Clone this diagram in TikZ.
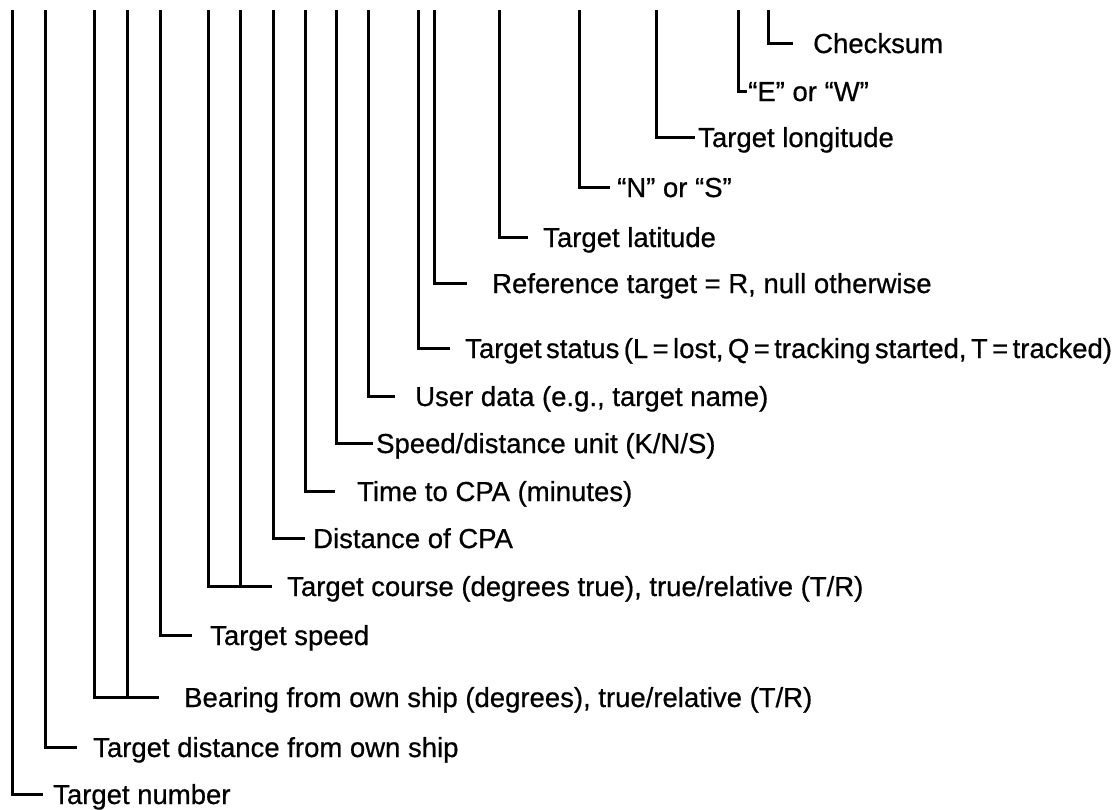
\documentclass[tikz,border=0pt]{standalone}
\usepackage{fontspec}
\setmainfont{Liberation Sans}
\newfontfamily\lblfont{Liberation Sans}[FakeBold=0.6]

\begin{document}
\begin{tikzpicture}[x=1pt,y=-1pt,
  lead/.style={line width=3pt},
  lbl/.style={anchor=west,inner sep=0pt,text height=20pt,text depth=0pt,font=\lblfont\fontsize{27.5}{31}\selectfont}]
\useasboundingbox (0,0) rectangle (1119,809);
\coordinate (numtop) at (12,10);
\coordinate (disttop) at (45,10);
\coordinate (brgtopa) at (94,10);
\coordinate (brgtopb) at (127,10);
\coordinate (spdtop) at (160,10);
\coordinate (crstopa) at (208,10);
\coordinate (crstopb) at (240,10);
\coordinate (dcpatop) at (273,10);
\coordinate (tcpatop) at (305,10);
\coordinate (unittop) at (336,10);
\coordinate (usertop) at (368,10);
\coordinate (stattop) at (418,10);
\coordinate (reftop) at (434,10);
\coordinate (lattop) at (499,10);
\coordinate (nstop) at (579,10);
\coordinate (lontop) at (656,10);
\coordinate (ewtop) at (738,10);
\coordinate (chktop) at (768,10);
\node[lbl] (num) at (53,794) {Target number};
\node[lbl] (dist) at (93,747) {Target distance from own ship};
\node[lbl] (brg) at (184,697) {Bearing from own ship (degrees), true/relative (T/R)};
\node[lbl] (spd) at (210,635) {Target speed};
\node[lbl] (crs) at (287,586) {Target course (degrees true), true/relative (T/R)};
\node[lbl] (dcpa) at (313,538) {Distance of CPA};
\node[lbl] (tcpa) at (357,491) {Time to CPA (minutes)};
\node[lbl] (unit) at (376,443) {Speed/distance unit (K/N/S)};
\node[lbl] (user) at (415,396) {User data (e.g., target name)};
\node[lbl] (stat) at (465,348) {\spaceskip=0.16em Target status (L = lost, Q = tracking started, T = tracked)};
\node[lbl] (ref) at (492,283) {Reference target = R, null otherwise};
\node[lbl] (lat) at (543,237) {Target latitude};
\node[lbl] (ns) at (617,187) {“N” or “S”};
\node[lbl] (lon) at (698,137) {Target longitude};
\node[lbl] (ew) at (748,91) {“E” or “W”};
\node[lbl] (chk) at (813,43) {Checksum};
\draw[lead,shorten >=10pt] (numtop) |- (num.west);
\draw[lead,shorten >=16pt] (disttop) |- (dist.west);
\draw[lead,shorten >=25pt] (brgtopa) |- (brg.west);
\draw[lead] (brgtopb) -- (brgtopb |- brg.west);
\draw[lead,shorten >=18pt] (spdtop) |- (spd.west);
\draw[lead,shorten >=15pt] (crstopa) |- (crs.west);
\draw[lead] (crstopb) -- (crstopb |- crs.west);
\draw[lead,shorten >=8pt] (dcpatop) |- (dcpa.west);
\draw[lead,shorten >=22pt] (tcpatop) |- (tcpa.west);
\draw[lead,shorten >=3pt] (unittop) |- (unit.west);
\draw[lead,shorten >=20pt] (usertop) |- (user.west);
\draw[lead,shorten >=15pt] (stattop) |- (stat.west);
\draw[lead,shorten >=25pt] (reftop) |- (ref.west);
\draw[lead,shorten >=15pt] (lattop) |- (lat.west);
\draw[lead,shorten >=7pt] (nstop) |- (ns.west);
\draw[lead,shorten >=3pt] (lontop) |- (lon.west);
\draw[lead,shorten >=1pt] (ewtop) |- (ew.west);
\draw[lead,shorten >=20pt] (chktop) |- (chk.west);
\end{tikzpicture}
\end{document}
